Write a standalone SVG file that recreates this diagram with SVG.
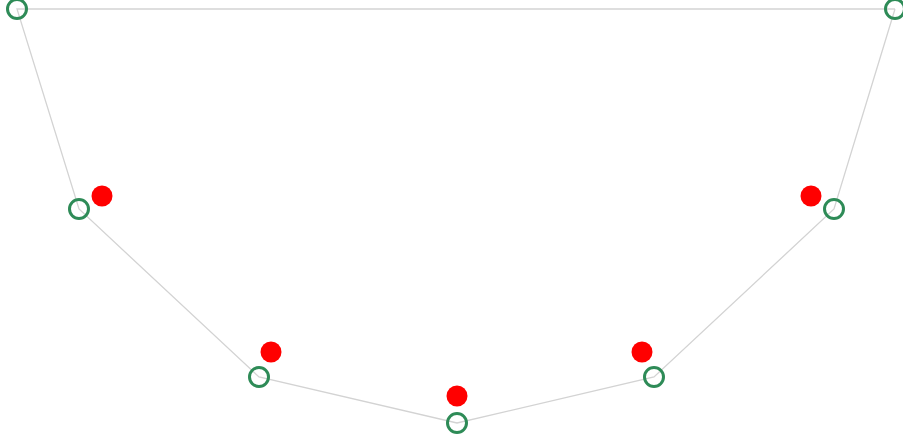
<svg xmlns="http://www.w3.org/2000/svg" width="903" height="441" viewBox="0 0 903 441">
<style>
.edge{fill:none;stroke:#d3d3d3;stroke-width:1.3}
.ring{fill:none;stroke:#2e8b57;stroke-width:3}
.dot{fill:#ff0000;stroke:none}
</style>
<rect width="903" height="441" fill="#ffffff"/>
<g id="connectors">
<polyline class="edge" points="895,9 17,9 79,209 259,377 457,423 654,377 834,209 895,9"/>
</g>
<g id="n1"><circle class="ring" cx="17" cy="9" r="9.5"/></g>
<g id="n2"><circle class="ring" cx="895" cy="9" r="9.5"/></g>
<g id="n3"><circle class="ring" cx="79" cy="209" r="9.5"/></g>
<g id="n4"><circle class="ring" cx="834" cy="209" r="9.5"/></g>
<g id="n5"><circle class="ring" cx="259" cy="377" r="9.5"/></g>
<g id="n6"><circle class="ring" cx="654" cy="377" r="9.5"/></g>
<g id="n7"><circle class="ring" cx="457" cy="423" r="9.5"/></g>
<g id="p1"><circle class="dot" cx="102" cy="196" r="10.5"/></g>
<g id="p2"><circle class="dot" cx="811" cy="196" r="10.5"/></g>
<g id="p3"><circle class="dot" cx="271" cy="352" r="10.5"/></g>
<g id="p4"><circle class="dot" cx="642" cy="352" r="10.5"/></g>
<g id="p5"><circle class="dot" cx="457" cy="396" r="10.5"/></g>
</svg>
